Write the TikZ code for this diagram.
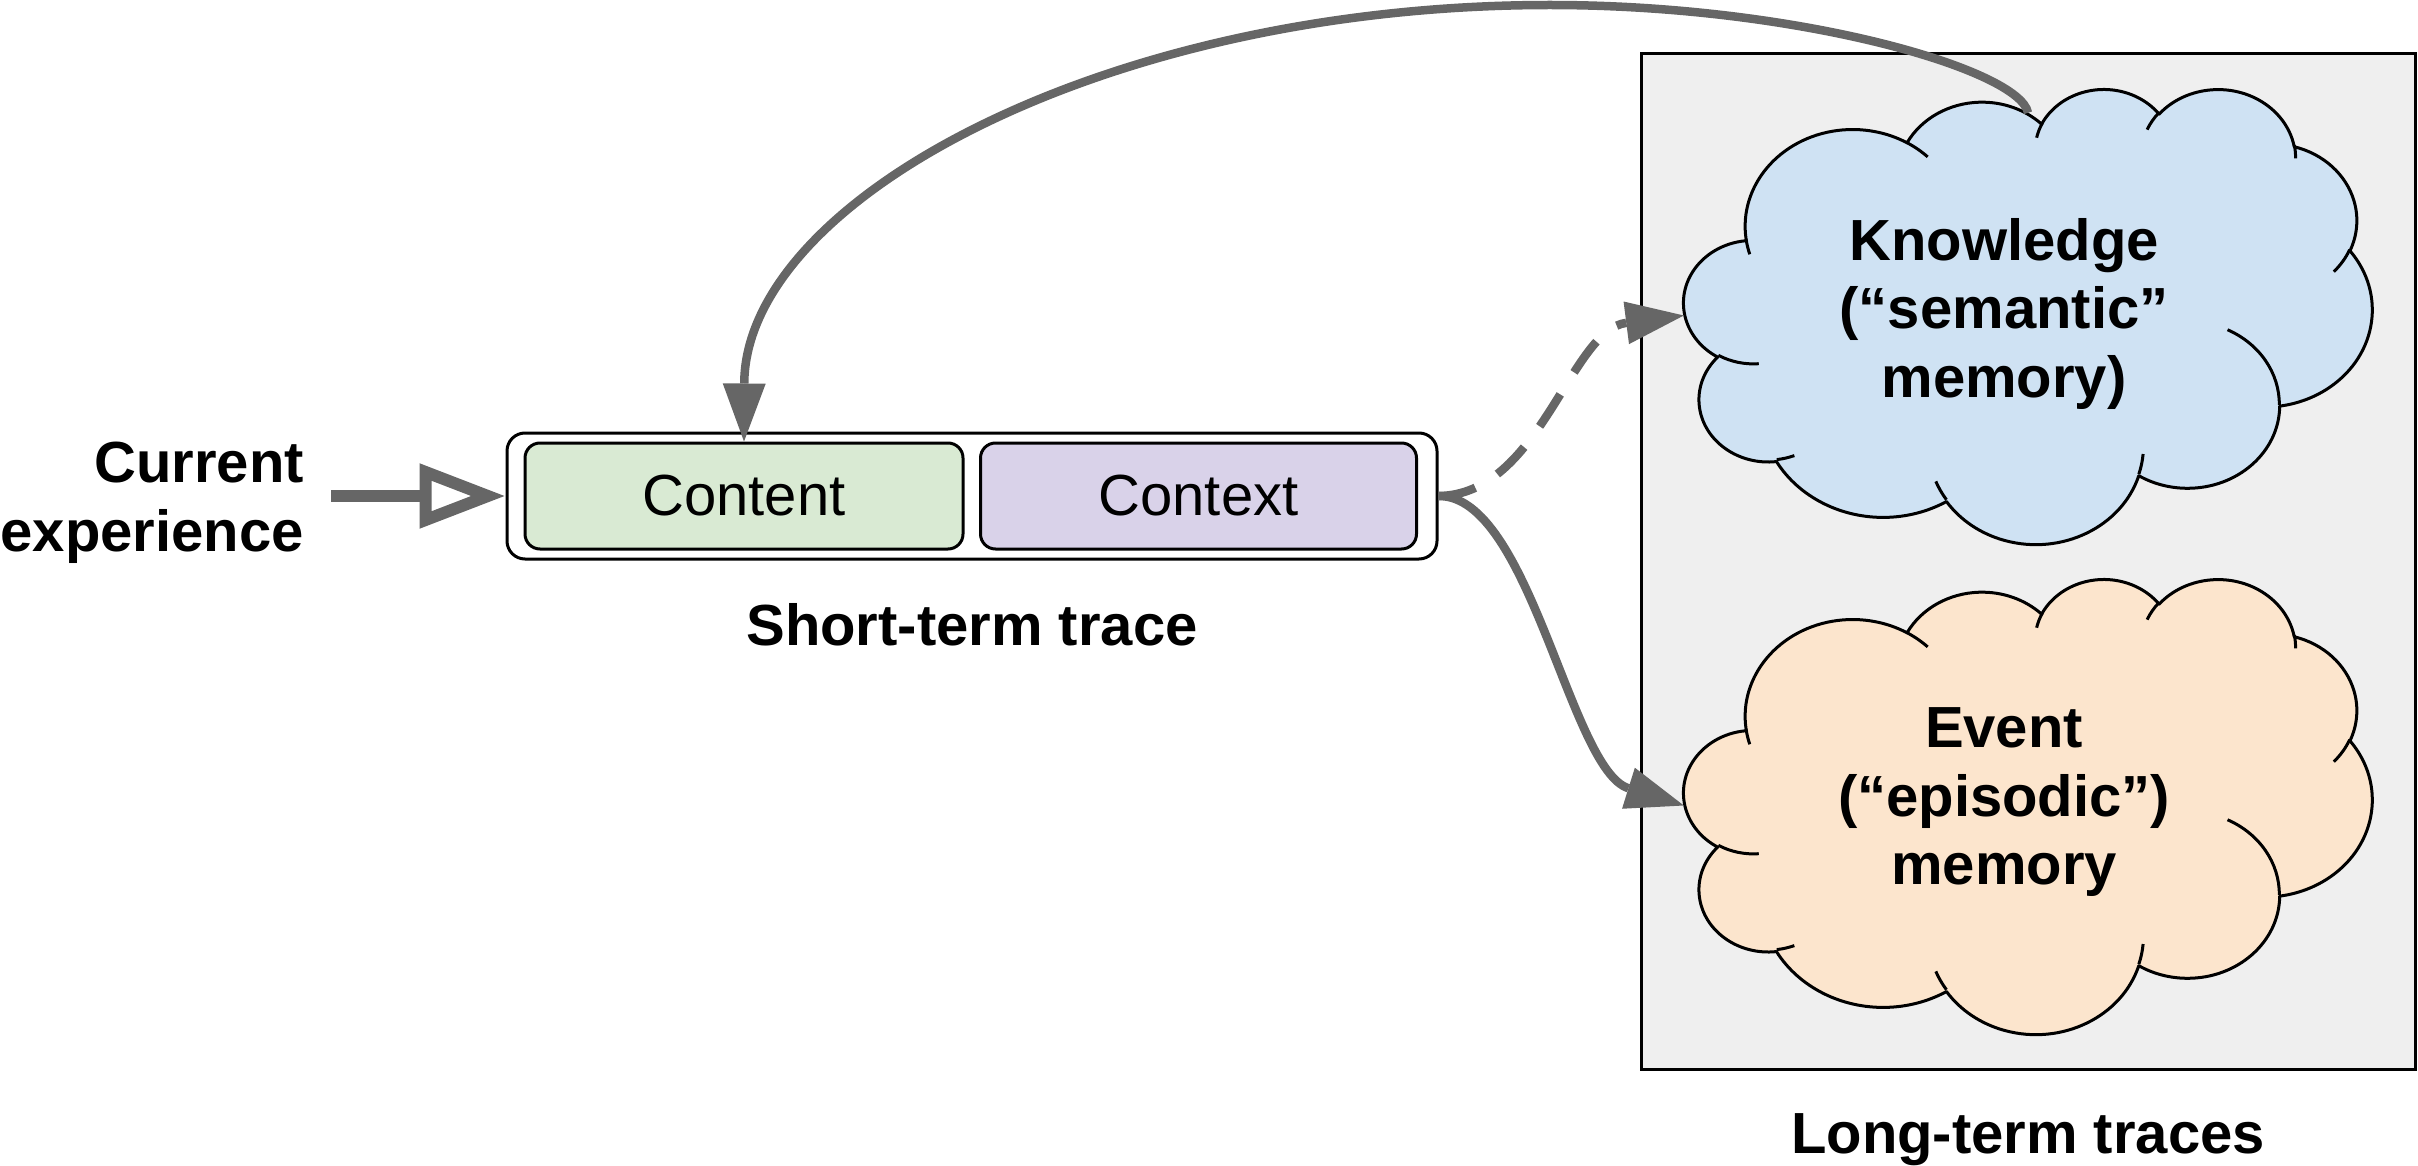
\documentclass[tikz,border=0pt]{standalone}
\usepackage{fontspec}
\setmainfont{Liberation Sans}
\usetikzlibrary{arrows.meta}

\definecolor{arrgrey}{HTML}{666666}
\definecolor{contentgreen}{HTML}{D9EAD3}
\definecolor{contextpurple}{HTML}{D9D2E9}
\definecolor{knowblue}{HTML}{CFE2F3}
\definecolor{eventorange}{HTML}{FCE5CD}
\definecolor{ltgrey}{HTML}{EFEFEF}

% cloud arc helper: name, wR, hR, start (visual deg), sweep (visual deg)
\newcommand\ccalc[5]{%
  \pgfmathsetmacro\ccA{atan2((#2)*sin(#4),(#3)*cos(#4))}%
  \pgfmathsetmacro\ccB{atan2((#2)*sin((#4)+(#5)),(#3)*cos((#4)+(#5)))}%
  \pgfmathsetmacro\ccD{mod(\ccB-\ccA+720,360)}%
  \expandafter\xdef\csname cs#1\endcsname{\ccA}%
  \expandafter\xdef\csname cd#1\endcsname{\ccD}%
  \expandafter\xdef\csname cx#1\endcsname{#2}%
  \expandafter\xdef\csname cy#1\endcsname{#3}%
}
\newcommand\carc[1]{arc[start angle=\csname cs#1\endcsname, delta angle=\csname cd#1\endcsname, x radius=\csname cx#1\endcsname, y radius=\csname cy#1\endcsname]}

\begin{document}
\begin{tikzpicture}[x=1pt, y=-1pt,
  lbl/.style={font=\fontsize{58}{68.5}\selectfont\bfseries, inner sep=0pt},
  boxtxt/.style={font=\fontsize{58}{68.5}\selectfont},
  slot/.style={draw=black, line width=3pt, rounded corners=15pt, minimum height=106pt, inner sep=0pt, boxtxt},
  conn/.style={draw=arrgrey, line width=8.5pt},
  headtip/.style={-{Triangle[length=58pt,width=43pt,line width=0pt]}},
  cloudline/.style={draw=black, line width=3pt, line join=round},
  cloudbox/.style={minimum width=688pt, minimum height=455pt, inner sep=0pt}
]
\useasboundingbox (0,0) rectangle (2418,1166);

% ---- cloud geometry (OOXML-like cloud, units of 1/100) ----
\ccalc{1}{67.53}{91.90}{-190.48748}{123.78053}
\ccalc{2}{53.33}{72.67}{-144.10238}{89.94523}
\ccalc{3}{43.65}{59.45}{-145.80792}{99.72302}
\ccalc{4}{48.57}{65.95}{-130.98607}{117.24173}
\ccalc{5}{53.33}{72.73}{-78.70888}{109.02692}
\ccalc{6}{67.75}{92.20}{-46.26725}{130.26900}
\ccalc{7}{57.85}{78.67}{0.62502}{114.03333}
\ccalc{8}{67.52}{92.15}{22.45160}{115.17255}
\ccalc{9}{77.20}{105.43}{66.24263}{75.71102}
\ccalc{10}{43.60}{59.18}{-274.94208}{146.73557}
\ccalc{11}{43.45}{59.45}{-246.82850}{152.51885}
\ccalc{h1}{43.45}{59.45}{86.74200}{26.42950}
\ccalc{h2}{43.60}{59.18}{73.61047}{11.44747}
\ccalc{h3}{67.52}{92.15}{137.62415}{14.08110}
\ccalc{h4}{67.52}{92.15}{6.45327}{15.99835}
\ccalc{h5}{57.85}{78.67}{-70.29235}{70.91737}
\ccalc{h6}{53.33}{72.73}{30.31803}{21.40815}
\ccalc{h7}{48.57}{65.95}{-13.74433}{14.85115}
\ccalc{h8}{48.57}{65.95}{-149.18145}{18.19315}
\ccalc{h9}{43.65}{59.45}{-163.49427}{17.69808}
\ccalc{h10}{67.53}{91.90}{-66.70695}{12.31935}
\ccalc{h11}{67.53}{91.90}{157.65}{11.86}
\xdef\cloudmain{(39.00,143.70) \carc{1} \carc{2} \carc{3} \carc{4} \carc{5} \carc{6} \carc{7} \carc{8} \carc{9} \carc{10} \carc{11} -- cycle}
\xdef\cloudhooks{(46.93,261.77) \carc{h1} (69.28,348.99) \carc{h2} (164.78,390.90) \carc{h3} (288.27,347.51) \carc{h4} (341.29,229.54) \carc{h5} (417.98,153.54) \carc{h6} (383.24,54.26) \carc{h7} (290.78,39.52) \carc{h8} (221.41,47.20) \carc{h9} (140.00,51.92) \carc{h10} (41.27,157.89) \carc{h11}}

% ---- long-term panel ----
\node[draw=black, line width=3pt, fill=ltgrey, minimum width=774pt, minimum height=1015pt, inner sep=0pt] (ltpanel) at (2028,561.5) {};
\node[lbl, anchor=base] (ltlabel) at (2028,1153) {Long-term traces};

% ---- clouds ----
\begin{scope}[shift={(1684,88)}, x=1.59259pt, y=-1.05324pt]
  \path[cloudline, fill=knowblue] \cloudmain;
  \path[cloudline] \cloudhooks;
\end{scope}
\begin{scope}[shift={(1684,578)}, x=1.59259pt, y=-1.05324pt]
  \path[cloudline, fill=eventorange] \cloudmain;
  \path[cloudline] \cloudhooks;
\end{scope}
\node[cloudbox] (kcloud) at (2028,315.5) {};
\node[cloudbox] (ecloud) at (2028,805.5) {};
\node[lbl, align=center] (ktext) at (2004,314) {Knowledge\\(“semantic”\\memory)};
\node[lbl, align=center] (etext) at (2004,802.5) {Event\\(“episodic”)\\memory};

% ---- short-term trace ----
\node[draw=black, line width=3pt, rounded corners=18pt, fill=white, minimum width=930pt, minimum height=126pt, inner sep=0pt] (trace) at (972,496) {};
\node[slot, fill=contentgreen, minimum width=438pt] (content) at (744,496) {Content};
\node[slot, fill=contextpurple, minimum width=436pt] (context) at (1198.5,496) {Context};
\node[lbl, anchor=base] (stlabel) at (972,645) {Short-term trace};

% ---- current experience ----
\node[lbl, align=right, anchor=east] (cur) at (304,503) {Current\\experience};
\coordinate (inp) at (331,496);
\draw[draw=arrgrey, line width=12pt, -{Triangle[open,length=86pt,width=62pt]}] (inp) -- (trace.west);

% ---- connectors ----
\draw[conn, headtip] ([yshift=-25pt]kcloud.north) .. controls (2020,70) and (1800,5) .. (1550,5) .. controls (1105,5) and (745,200) .. (content.north);
\draw[conn, headtip, dash pattern=on 38pt off 26pt] (trace.east) .. controls (1540,495) and (1570,330) .. (kcloud.west);
\draw[conn, headtip] (trace.east) .. controls (1530,495) and (1570,770) .. (ecloud.west);
\end{tikzpicture}
\end{document}
